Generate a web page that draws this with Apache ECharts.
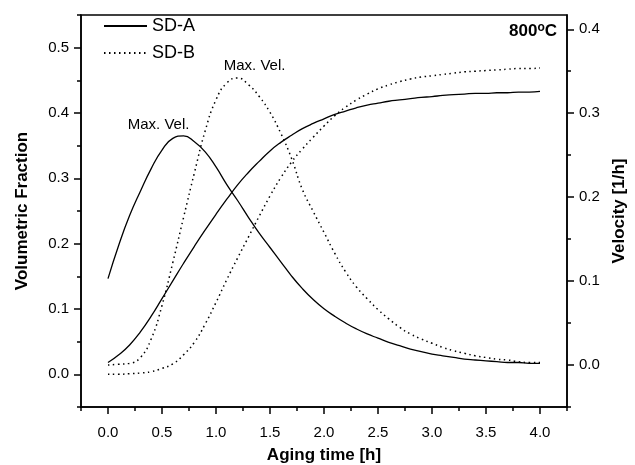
<!DOCTYPE html>
<html>
<head>
<meta charset="utf-8">
<script src="https://cdn.jsdelivr.net/npm/echarts@6/dist/echarts.min.js"></script>
<style>
  html, body { margin: 0; padding: 0; background: #fff; }
  #main { width: 635px; height: 465px; }
</style>
</head>
<body>
<div id="main"></div>
<script>
// aging time [h], every 0.1 h
var times = [0.0, 0.1, 0.2, 0.3, 0.4, 0.5, 0.6, 0.7, 0.8, 0.9,
             1.0, 1.1, 1.2, 1.3, 1.4, 1.5, 1.6, 1.7, 1.8, 1.9,
             2.0, 2.1, 2.2, 2.3, 2.4, 2.5, 2.6, 2.7, 2.8, 2.9,
             3.0, 3.1, 3.2, 3.3, 3.4, 3.5, 3.6, 3.7, 3.8, 3.9, 4.0];

// volumetric fraction (left axis)
var fracA = [0.018, 0.030, 0.045, 0.065, 0.089, 0.116, 0.143, 0.170, 0.196, 0.221,
             0.245, 0.268, 0.290, 0.309, 0.326, 0.342, 0.355, 0.366, 0.376, 0.384,
             0.391, 0.398, 0.403, 0.408, 0.412, 0.415, 0.418, 0.420, 0.422, 0.424,
             0.425, 0.427, 0.428, 0.429, 0.430, 0.430, 0.431, 0.431, 0.432, 0.432, 0.433];
var fracB = [0.000, 0.000, 0.001, 0.002, 0.004, 0.009, 0.016, 0.030, 0.049, 0.077,
             0.110, 0.145, 0.178, 0.210, 0.242, 0.273, 0.301, 0.325, 0.345, 0.363,
             0.380, 0.396, 0.409, 0.420, 0.429, 0.437, 0.443, 0.448, 0.452, 0.455,
             0.457, 0.459, 0.461, 0.463, 0.464, 0.465, 0.466, 0.467, 0.468, 0.468, 0.469];

// velocity [1/h] (right axis)
var velA = [0.103, 0.143, 0.178, 0.207, 0.234, 0.256, 0.270, 0.273, 0.266, 0.254,
            0.236, 0.215, 0.196, 0.176, 0.157, 0.140, 0.123, 0.106, 0.091, 0.078,
            0.067, 0.058, 0.050, 0.043, 0.037, 0.032, 0.027, 0.023, 0.019, 0.016,
            0.013, 0.011, 0.009, 0.007, 0.006, 0.005, 0.004, 0.003, 0.003, 0.002, 0.002];
var velB = [0.000, 0.001, 0.002, 0.009, 0.031, 0.071, 0.122, 0.176, 0.229, 0.279,
            0.316, 0.336, 0.342, 0.334, 0.320, 0.301, 0.276, 0.246, 0.209, 0.183,
            0.158, 0.133, 0.111, 0.093, 0.079, 0.066, 0.055, 0.045, 0.037, 0.031,
            0.026, 0.021, 0.017, 0.014, 0.011, 0.009, 0.007, 0.006, 0.004, 0.003, 0.003];

// tick positions
var xMajor = [0, 0.5, 1, 1.5, 2, 2.5, 3, 3.5, 4];
var xMinor = [-0.25, 0.25, 0.75, 1.25, 1.75, 2.25, 2.75, 3.25, 3.75, 4.25];
var leftMajor = [0, 0.1, 0.2, 0.3, 0.4, 0.5];
var leftMinor = [-0.05, 0.05, 0.15, 0.25, 0.35, 0.45, 0.55];
var rightMajor = [0, 0.1, 0.2, 0.3, 0.4];
var rightMinor = [-0.05, 0.05, 0.15, 0.25, 0.35];

var FONT = "'Liberation Sans', Arial, sans-serif";

function pairs(xs, ys) {
    var out = [];
    for (var i = 0; i < xs.length; i++) {
        out.push([xs[i], ys[i]]);
    }
    return out;
}

// peak of a velocity curve, for the "Max. Vel." note
function peak(xs, ys) {
    var k = 0;
    for (var i = 1; i < ys.length; i++) {
        if (ys[i] > ys[k]) k = i;
    }
    return [xs[k], ys[k]];
}

function minorAxis(pos, min, max, ticks) {
    return {
        type: 'value', position: pos, min: min, max: max,
        axisLine: { show: false, onZero: false },
        axisTick: { show: true, inside: false, length: 4, customValues: ticks,
                    lineStyle: { color: '#000', width: 1.5 } },
        axisLabel: { show: false },
        splitLine: { show: false }
    };
}

function majorY(pos, min, max, ticks, name, gap) {
    return {
        type: 'value', position: pos, min: min, max: max,
        name: name, nameLocation: 'middle', nameGap: gap,
        nameTextStyle: { color: '#000', fontFamily: FONT, fontWeight: 'bold', fontSize: 17 },
        axisLine: { show: true, onZero: false, lineStyle: { color: '#000', width: 1.5 } },
        axisTick: { show: true, length: 7, customValues: ticks,
                    lineStyle: { color: '#000', width: 1.5 } },
        axisLabel: { show: true, customValues: ticks, margin: 12, color: '#000',
                     fontFamily: FONT, fontSize: 15,
                     formatter: function (v) { return v.toFixed(1); } },
        splitLine: { show: false }
    };
}

var solid = { color: '#000', width: 1.3, type: 'solid' };
var dotted = { color: '#000', width: 1.5, type: [1.5, 3.5] };

var pA = peak(times, velA), pB = peak(times, velB);

var chart = echarts.init(document.getElementById('main'), null, { renderer: 'canvas' });
chart.setOption({
    animation: false,
    backgroundColor: '#fff',
    grid: { left: 81, right: 68, top: 15, bottom: 58, show: true, outerBoundsMode: 'none',
            borderColor: '#000', borderWidth: 1.5, backgroundColor: 'transparent' },
    title: {
        text: '800{s|o}C', right: 73, top: 17,
        textStyle: { color: '#000', fontFamily: FONT, fontWeight: 'bold', fontSize: 17,
                     rich: { s: { fontFamily: FONT, fontWeight: 'bold', fontSize: 12,
                                  padding: [0, 0, 7, 0] } } }
    },
    legend: {
        data: ['SD-A', 'SD-B'], orient: 'vertical', left: 98, top: 12,
        itemWidth: 43, itemHeight: 14, itemGap: 9,
        itemStyle: { opacity: 0 },
        textStyle: { color: '#000', fontFamily: FONT, fontSize: 18 }
    },
    xAxis: [{
        type: 'value', min: -0.25, max: 4.25,
        name: 'Aging time [h]', nameLocation: 'middle', nameGap: 40,
        nameTextStyle: { color: '#000', fontFamily: FONT, fontWeight: 'bold', fontSize: 17 },
        axisLine: { show: true, onZero: false, lineStyle: { color: '#000', width: 1.5 } },
        axisTick: { show: true, length: 7, customValues: xMajor,
                    lineStyle: { color: '#000', width: 1.5 } },
        axisLabel: { show: true, customValues: xMajor, margin: 18, color: '#000',
                     fontFamily: FONT, fontSize: 15,
                     formatter: function (v) { return v.toFixed(1); } },
        splitLine: { show: false }
    }, minorAxis('bottom', -0.25, 4.25, xMinor)],
    yAxis: [
        majorY('left', -0.05, 0.55, leftMajor, 'Volumetric Fraction', 50),
        majorY('right', -0.05, 0.417, rightMajor, 'Velocity [1/h]', 38),
        minorAxis('left', -0.05, 0.55, leftMinor),
        minorAxis('right', -0.05, 0.417, rightMinor)
    ],
    series: [{
        name: 'SD-A', type: 'line', yAxisIndex: 0, data: pairs(times, fracA),
        smooth: true, symbol: 'none', lineStyle: solid, itemStyle: { color: '#000' }
    }, {
        name: 'SD-B', type: 'line', yAxisIndex: 0, data: pairs(times, fracB),
        smooth: true, symbol: 'none', lineStyle: dotted, itemStyle: { color: '#000' }
    }, {
        name: 'SD-A', type: 'line', yAxisIndex: 1, data: pairs(times, velA),
        smooth: true, symbol: 'none', lineStyle: solid, itemStyle: { color: '#000' },
        markPoint: {
            symbol: 'circle', symbolSize: 0,
            label: { show: true, position: 'inside', offset: [-25, -11], formatter: 'Max. Vel.',
                     color: '#000', fontFamily: FONT, fontSize: 15 },
            data: [{ coord: pA }]
        }
    }, {
        name: 'SD-B', type: 'line', yAxisIndex: 1, data: pairs(times, velB),
        smooth: true, symbol: 'none', lineStyle: dotted, itemStyle: { color: '#000' },
        markPoint: {
            symbol: 'circle', symbolSize: 0,
            label: { show: true, position: 'inside', offset: [17, -12], formatter: 'Max. Vel.',
                     color: '#000', fontFamily: FONT, fontSize: 15 },
            data: [{ coord: pB }]
        }
    }]
});
</script>
</body>
</html>
